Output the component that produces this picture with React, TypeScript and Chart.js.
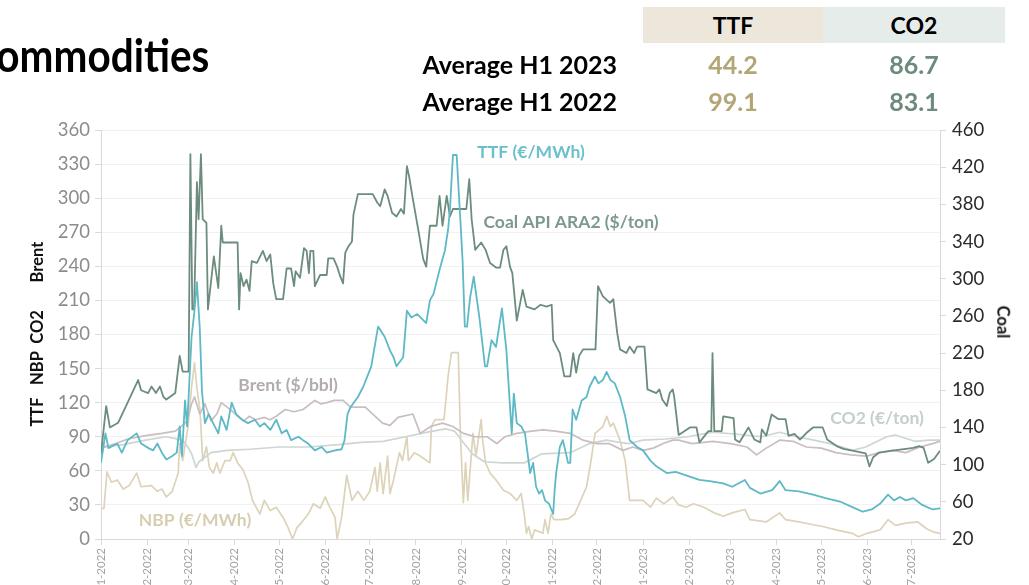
import React, { useEffect, useRef } from "react";
import { Chart, registerables } from "chart.js";

Chart.register(...registerables);

// Days since 1 Jan 2022 at which month ticks sit, and their labels
const monthDays = [0, 31, 59, 90, 120, 151, 181, 212, 243, 273, 304, 334, 365, 396, 424, 455, 485, 516, 546];
const monthLabels = [
  "1-2022", "2-2022", "3-2022", "4-2022", "5-2022", "6-2022", "7-2022", "8-2022", "9-2022",
  "10-2022", "11-2022", "12-2022", "1-2023", "2-2023", "3-2023", "4-2023", "5-2023", "6-2023", "7-2023",
];
const lastDay = 565;

const leftTicks = { min: 0, max: 360, step: 30 };
const rightTicks = { min: 20, max: 460, step: 40 };

// [day, value] — left axis (€/MWh)
const ttfPoints: [number, number][] = [
  [0, 67], [3, 93], [5, 80], [11, 84], [14, 76], [18, 87], [24, 93], [27, 84], [32, 80], [35, 78], [38, 84],
  [41, 76], [44, 70], [48, 73], [51, 76], [53, 99], [54.5, 73], [56.6, 122], [58, 99], [61, 178], [62.8, 199],
  [64.6, 226], [66.5, 186], [68, 130], [70, 102], [72.5, 110], [75.5, 102], [79, 93], [81, 108], [84.6, 96],
  [88, 120], [91, 110], [95, 105], [99, 102], [103.6, 105], [107, 99], [110, 102], [114, 96], [118, 105],
  [121.7, 93], [125, 96], [128, 87], [133, 90], [136, 87], [139.5, 84], [144, 78], [148.6, 81], [152, 76],
  [157.6, 78], [162, 79], [164, 87], [166, 110], [168, 116], [173, 125], [176.6, 134], [182, 152], [186.6, 187],
  [191, 178], [194.6, 166], [197, 160], [199, 152], [203.5, 160], [206, 201], [209, 195], [213, 198], [219, 190],
  [221.5, 210], [224, 216], [228, 237], [231.6, 254], [233.7, 272], [235, 290], [237, 338], [239.5, 338],
  [242, 281], [243.5, 245], [245, 187], [246.5, 187], [248.5, 212], [251, 231], [255, 193], [258.6, 152],
  [260, 152], [263, 175], [266, 169], [270, 203], [273, 166], [276.6, 93], [278, 128], [280, 102], [283, 99],
  [285.5, 93], [287, 78], [289, 58], [291, 67], [293, 46], [295, 40], [297, 43], [299, 34], [301.7, 31],
  [304.5, 22], [305.5, 43], [306.5, 58], [309, 81], [311, 87], [313, 76], [314.5, 67], [316, 67], [317.6, 114],
  [320, 105], [323.7, 122], [327, 125], [329, 134], [332.6, 143], [335, 137], [338, 140], [340.5, 147],
  [343, 140], [346, 137], [349.6, 125], [353, 108], [356, 87], [361, 81], [365, 78], [370, 69], [374, 64],
  [381, 58], [387, 59], [394, 56], [403, 52], [410, 51], [419, 49], [425, 46], [433.6, 52], [437, 45],
  [444, 40], [452, 43], [457, 51], [461, 43], [470, 42], [479.5, 39], [488, 36], [497.6, 33], [506, 28],
  [513, 24], [519, 26], [524.6, 31], [530, 39], [534, 34], [538, 37], [542, 34], [547, 36], [553, 30],
  [560, 26], [565, 27],
];

// [day, value] — right axis ($/ton)
const coalPoints: [number, number][] = [
  [0, 112], [3.5, 163], [6, 140], [11.5, 145], [18, 167], [25, 191], [27, 180], [31.7, 177], [34, 184],
  [37, 177], [39.7, 184], [42, 173], [44, 170], [50, 177], [53, 217], [55, 200], [59, 200], [60.2, 434],
  [61.5, 267], [62.7, 267], [64.6, 404], [65.7, 364], [67.3, 434], [68.5, 364], [71, 360], [72, 267], [76, 324],
  [79, 290], [81, 357], [82, 339], [92, 339], [93, 267], [94, 306], [96, 292], [98, 299], [100, 287],
  [101.5, 319], [105, 317], [109, 330], [111.5, 319], [114, 326], [116, 295], [118, 278], [122.6, 278],
  [125, 311], [128, 311], [130, 292], [131, 308], [134, 301], [136.7, 333], [138.5, 330], [140, 306],
  [141, 330], [143, 330], [144, 292], [147.5, 304], [152, 304], [153, 322], [156.6, 322], [159, 313],
  [161, 303], [163, 295], [164.5, 328], [166.7, 335], [169, 340], [170, 369], [173, 391], [183, 391],
  [186, 382], [188, 378], [191, 396], [193, 389], [196, 371], [199, 367], [202, 375], [204, 370], [206, 421],
  [207.5, 410], [210, 386], [213.6, 353], [217, 321], [219, 313], [221.5, 357], [226, 357], [228, 389],
  [230, 357], [232.8, 389], [235, 367], [237, 375], [246, 375], [248, 407], [249.6, 364], [252, 331],
  [256, 339], [259, 331], [262, 317], [266, 312], [268.7, 312], [271, 331], [273, 335], [275.4, 313],
  [277, 306], [280, 255], [284, 288], [286.5, 270], [292, 267], [296, 272], [300, 270], [303.5, 272],
  [304.5, 234], [309, 220], [312, 195], [316, 195], [318, 220], [320, 199], [322, 217], [324.6, 224],
  [333, 224], [334.7, 292], [338, 281], [342.8, 274], [345, 278], [347.6, 242], [349.5, 224], [353.8, 220],
  [356, 227], [359, 220], [361, 227], [366, 227], [368, 181], [374, 177], [376, 181], [378, 170], [381, 163],
  [383, 177], [385, 181], [386, 173], [389, 132], [396.6, 140], [401, 140], [403, 124], [409, 136],
  [411, 136], [411.8, 220], [413, 136], [418, 136], [419, 152], [426, 150], [427, 127], [430, 124],
  [436, 140], [440, 127], [444, 124], [445, 138], [448, 131], [451.6, 154], [456, 149], [461, 149],
  [463, 131], [467, 133], [470.7, 127], [475, 134], [479.5, 140], [486, 140], [489, 127], [495.4, 120],
  [500, 117], [506, 115], [515, 112], [517.5, 98], [520, 108], [524, 113], [533, 115], [542, 117],
  [547, 118], [551, 120], [554, 118], [557, 102], [561, 106], [565, 115],
];

// [day, value] — left axis ($/bbl)
const brentPoints: [number, number][] = [
  [0, 80], [10, 84], [18, 88], [30, 91], [41, 93], [50, 95], [54, 99], [58, 104], [61, 119], [63, 125],
  [66.5, 110], [70, 119], [74, 104], [78, 110], [81, 120], [84, 117], [88, 113], [92, 108], [96, 104],
  [100, 108], [104, 105], [110, 107], [114, 105], [118, 108], [124, 114], [130, 112], [136, 114], [144, 122],
  [148, 119], [152, 120], [157, 122], [163, 122], [168, 116], [178, 116], [183, 110], [189.6, 102],
  [194.6, 100], [200, 107], [210, 110], [215, 93], [222, 99], [230, 102], [237, 99], [244, 93], [252, 90],
  [260, 90], [266.5, 84], [272, 90], [280, 93], [290, 95], [297.7, 96], [306, 95], [316, 93], [324.6, 87],
  [333.8, 84], [342, 84], [351.5, 78], [358, 81], [365, 78], [372, 80], [378.6, 84], [385, 87], [389, 87],
  [398, 84], [412, 86], [424, 84], [435, 81], [441.5, 74], [448, 80], [457, 87], [466, 86], [475, 81],
  [485, 80], [495, 76], [505, 74], [515.6, 73], [524, 76], [533, 78], [542, 76], [551.5, 81], [560, 84],
  [565, 86],
];

// [day, value] — left axis (€/ton)
const co2Points: [number, number][] = [
  [0, 81], [15, 83], [30, 87], [44, 90], [55, 87], [59, 80], [61, 75], [64, 63], [66, 68], [70, 72], [74, 76],
  [85, 78], [100, 79], [120, 81], [140, 81], [160, 83], [175, 85], [190, 86], [205, 90], [220, 94], [232, 97],
  [238, 95], [244, 85], [250, 75], [258, 68], [270, 67], [285, 67], [297, 75], [316, 76], [329, 84],
  [340, 87], [355, 84], [365, 87], [380, 88], [395, 90], [412, 94], [430, 92], [445, 90], [457, 94],
  [468.5, 90], [480, 87], [491, 84], [506, 78], [515, 81], [529, 90], [535, 91.5], [548, 86], [558, 87],
  [565, 87],
];

// [day, value] — left axis (€/MWh)
const nbpPoints: [number, number][] = [
  [0, 27], [2, 27], [4, 59], [7, 50], [11, 52], [15, 44], [19, 47], [24, 58], [27, 46], [34, 47], [38, 42],
  [41, 44], [44, 37], [48, 42], [52, 58], [53, 84], [55, 69], [58.6, 99], [61, 134], [63, 155], [64.5, 134],
  [66.7, 113], [68.5, 69], [71, 81], [73, 63], [75.6, 58], [78, 67], [80, 58], [83.5, 69], [87, 69],
  [89, 76], [92, 67], [95.6, 61], [99, 50], [102, 34], [107, 22], [110, 34], [114, 25], [118, 28],
  [122.6, 19], [126, 10], [129, 0], [132, 10], [136, 16], [139.6, 22], [143, 31], [147.6, 27], [151, 37],
  [154, 28], [157.6, 19], [159, 0], [162, 19], [165.5, 56], [169, 34], [173, 42], [177, 34], [181, 42],
  [184.5, 63], [186, 42], [188, 67], [190, 40], [193, 73], [194.6, 40], [197, 52], [201, 76], [203, 69],
  [206, 90], [207, 69], [211, 76], [215, 73], [221.5, 67], [222.5, 99], [225, 105], [231, 105],
  [233.7, 143], [236, 164], [240.6, 164], [242, 93], [244, 32], [245.5, 67], [247, 34], [250.5, 93],
  [252.5, 73], [256, 105], [257, 87], [259, 67], [262, 58], [266, 52], [271, 43], [275.5, 40], [280, 34],
  [283, 40], [285, 22], [286.5, 5], [288, 11], [290, 0], [292, 8], [297.6, 5], [299, 17], [301, 5],
  [303, 22], [305, 17], [310, 17], [315, 18], [319, 22], [323, 34], [327, 46], [330, 69], [332.7, 93],
  [338, 99], [340.6, 108], [343, 99], [345, 102], [349.5, 87], [353, 69], [356, 34], [365, 34], [370, 28],
  [374, 36], [379, 31], [385, 37], [389, 30], [394, 28], [399, 31], [406, 28], [410, 25], [413, 23],
  [419, 20], [425, 23], [433.6, 26], [437, 17], [448, 15], [457, 23], [461, 17], [470, 15], [478, 13],
  [486, 11], [495, 8], [506, 5], [510, 2], [516, 5], [524.6, 8], [530, 17], [535, 12], [542, 14],
  [550, 15], [556, 9], [561, 6], [565, 5],
];

// In-plot series names, placed in data coordinates (day, left-axis value)
const seriesNames = ["TTF (€/MWh)", "Coal API ARA2 ($/ton)", "Brent ($/bbl)", "CO2 (€/ton)", "NBP (€/MWh)"];
const seriesNameDays = [289.6, 316.5, 126, 522.6, 63.3];
const seriesNameLevels = [340.6, 279, 135.5, 106.5, 16.7];

const colTTF = "#5db9c6";
const colCoal = "#6c8c7d";
const colBrent = "#c9bec2";
const colCO2 = "#cdd6d2";
const colNBP = "#dcd3b9";
const nameColors = ["#6cc0cb", "#7d998b", "#b3acae", "#c5cfcb", "#d7ceb2"];

const toXY = (pts: [number, number][]) => pts.map(([x, y]) => ({ x, y }));

export default function App() {
  const ref = useRef<HTMLCanvasElement>(null);

  useEffect(() => {
    if (!ref.current) return;
    Chart.defaults.font.family = "Lato, 'Open Sans', sans-serif";

    const namesPlugin = {
      id: "seriesNames",
      afterDatasetsDraw(chart: any) {
        const { ctx, scales } = chart;
        ctx.save();
        ctx.font = "bold 17.5px Lato, sans-serif";
        ctx.textAlign = "center";
        ctx.textBaseline = "middle";
        seriesNames.forEach((t, i) => {
          ctx.fillStyle = nameColors[i];
          ctx.fillText(t, scales.x.getPixelForValue(seriesNameDays[i]), scales.y.getPixelForValue(seriesNameLevels[i]));
        });
        ctx.restore();
      },
    };

    const line = (label: string, pts: [number, number][], color: string, axis: string, width: number) => ({
      label,
      data: toXY(pts),
      yAxisID: axis,
      borderColor: color,
      backgroundColor: color,
      borderWidth: width,
      pointRadius: 0,
      tension: 0,
      borderJoinStyle: "round" as const,
      fill: false,
    });

    const chart = new Chart(ref.current, {
      type: "line",
      data: {
        datasets: [
          line("TTF (€/MWh)", ttfPoints, colTTF, "y", 1.8),
          line("Coal API ARA2 ($/ton)", coalPoints, colCoal, "y1", 1.8),
          line("Brent ($/bbl)", brentPoints, colBrent, "y", 1.7),
          line("CO2 (€/ton)", co2Points, colCO2, "y", 1.7),
          line("NBP (€/MWh)", nbpPoints, colNBP, "y", 1.7),
        ],
      },
      options: {
        animation: false,
        responsive: false,
        devicePixelRatio: 1,
        layout: { padding: { top: 130, left: 0, right: 0, bottom: 0 } },
        plugins: { legend: { display: false }, tooltip: { enabled: false }, title: { display: false } },
        scales: {
          x: {
            type: "linear",
            min: 0,
            max: lastDay,
            afterBuildTicks: (scale: any) => {
              scale.ticks = monthDays.map((v) => ({ value: v }));
            },
            afterFit: (scale: any) => {
              scale.height = 61;
            },
            ticks: {
              autoSkip: false,
              minRotation: 90,
              maxRotation: 90,
              padding: 3,
              color: "#a3a3a3",
              font: { size: 11.5 },
              callback: (_v: any, i: number) => monthLabels[i],
            },
            grid: { drawOnChartArea: false, drawTicks: true, tickLength: 6, tickColor: "#d9d9d9" },
            border: { color: "#d9d9d9" },
          },
          y: {
            type: "linear",
            position: "left",
            min: leftTicks.min,
            max: leftTicks.max,
            afterFit: (scale: any) => {
              scale.width = 101;
            },
            ticks: { stepSize: leftTicks.step, color: "#8c8c8c", font: { size: 18.5 }, padding: 5 },
            grid: { color: "#f1f1f1", tickLength: 6, tickColor: "#d9d9d9" },
            border: { color: "#d9d9d9" },
          },
          y1: {
            type: "linear",
            position: "right",
            min: rightTicks.min,
            max: rightTicks.max,
            afterFit: (scale: any) => {
              scale.width = 89;
            },
            ticks: { stepSize: rightTicks.step, color: "#2b2b2b", font: { size: 18.5 }, padding: 6 },
            grid: { drawOnChartArea: false, tickLength: 6, tickColor: "#d9d9d9" },
            border: { color: "#d9d9d9" },
          },
        },
      },
      plugins: [namesPlugin],
    });
    return () => chart.destroy();
  }, []);

  const sideLabel = (text: string, x: number, y: number, deg: number) => (
    <div
      style={{
        position: "absolute",
        left: x,
        top: y,
        transform: `translate(-50%, -50%) rotate(${deg}deg)`,
        fontWeight: 700,
        fontSize: 16.5,
        lineHeight: 1,
        whiteSpace: "nowrap",
        color: "#111",
      }}
    >
      {text}
    </div>
  );

  const cell = (text: string, left: number, top: number, width: number, height: number, style: any) => (
    <div
      style={{
        position: "absolute",
        left,
        top,
        width,
        height,
        display: "flex",
        alignItems: "center",
        justifyContent: "center",
        fontWeight: 700,
        whiteSpace: "nowrap",
        ...style,
      }}
    >
      {text}
    </div>
  );

  return (
    <div
      style={{
        position: "fixed",
        left: 0,
        top: 0,
        width: 1029,
        height: 585,
        overflow: "hidden",
        background: "#fff",
        fontFamily: "Lato, 'Open Sans', sans-serif",
      }}
    >
      <canvas ref={ref} width={1029} height={600} style={{ position: "absolute", left: 0, top: 0, width: 1029, height: 600 }} />
      <div
        style={{
          position: "absolute",
          left: -30,
          top: 32,
          fontSize: 46,
          fontWeight: 700,
          lineHeight: 1,
          color: "#000",
          whiteSpace: "nowrap",
          transform: "scaleX(0.88)",
          transformOrigin: "0 0",
        }}
      >
        Commodities
      </div>
      {cell("TTF", 643, 7, 180, 36, { background: "#ece7da", fontSize: 23, color: "#000" })}
      {cell("CO2", 823, 7, 182, 36, { background: "#e6ecea", fontSize: 23, color: "#000" })}
      <div style={{ position: "absolute", left: 300, top: 48, width: 317, height: 32, display: "flex", alignItems: "center", justifyContent: "flex-end", fontWeight: 700, fontSize: 25, whiteSpace: "nowrap" }}>
        Average H1 2023
      </div>
      <div style={{ position: "absolute", left: 300, top: 85, width: 317, height: 32, display: "flex", alignItems: "center", justifyContent: "flex-end", fontWeight: 700, fontSize: 25, whiteSpace: "nowrap" }}>
        Average H1 2022
      </div>
      {cell("44.2", 643, 48, 180, 32, { fontSize: 25, color: "#b3a676" })}
      {cell("86.7", 823, 48, 182, 32, { fontSize: 25, color: "#6d8b7c" })}
      {cell("99.1", 643, 85, 180, 32, { fontSize: 25, color: "#b3a676" })}
      {cell("83.1", 823, 85, 182, 32, { fontSize: 25, color: "#6d8b7c" })}
      {sideLabel("Brent", 37, 262, -90)}
      {sideLabel("CO2", 37, 327, -90)}
      {sideLabel("NBP", 37, 368, -90)}
      {sideLabel("TTF", 37, 412, -90)}
      {sideLabel("Coal", 1003, 322, 90)}
    </div>
  );
}
